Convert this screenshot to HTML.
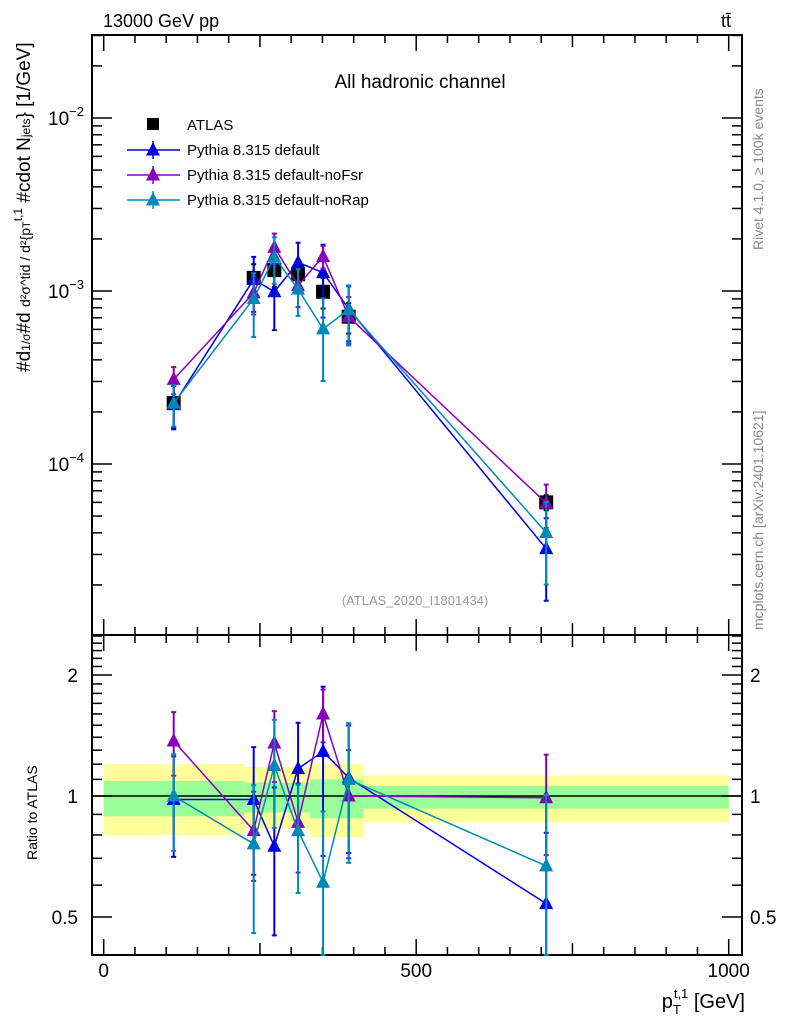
<!DOCTYPE html>
<html><head><meta charset="utf-8">
<style>
body{margin:0;background:#fff;}
svg{display:block;font-family:"Liberation Sans",sans-serif;}
</style></head>
<body>
<svg id="chart" width="786" height="1024" viewBox="0 0 786 1024" xmlns="http://www.w3.org/2000/svg">
<g id="bands"></g>
<g id="grid"></g>
<g id="marks"></g>
<text x="103" y="27" font-size="18">13000 GeV pp</text>
<text x="721" y="27" font-size="18">tt̄</text>
<text x="420" y="88" font-size="19" text-anchor="middle">All hadronic channel</text>
<text x="415" y="605" font-size="13" fill="#999" text-anchor="middle">(ATLAS_2020_I1801434)</text>
<text transform="translate(763,250) rotate(-90)" font-size="14" fill="#888">Rivet 4.1.0, ≥ 100k events</text>
<text transform="translate(763,630) rotate(-90)" font-size="14" fill="#888">mcplots.cern.ch [arXiv:2401.10621]</text>
<text transform="translate(30,372) rotate(-90)" font-size="19">#d<tspan font-size="12">1/σ</tspan>#d <tspan font-size="14">d²σ^tid / d²{p</tspan><tspan font-size="11">T</tspan><tspan font-size="12" dy="-8">t,1</tspan><tspan dy="8"> #cdot N</tspan><tspan font-size="12">jets</tspan>} [1/GeV]</text>
<text transform="translate(37,860) rotate(-90)" font-size="14">Ratio to ATLAS</text>
<text x="745" y="1008" font-size="20" text-anchor="end">p<tspan font-size="13" dy="6">T</tspan><tspan font-size="13" dx="-7" dy="-16">t,1</tspan><tspan dy="10"> [GeV]</tspan></text>
<g id="legend"></g>
</svg>
<script>
const xBins = [112, 240, 273, 311, 351, 392, 708];
const atlas = [2.25e-4, 1.19e-3, 1.32e-3, 1.25e-3, 0.99e-3, 7.1e-4, 6.0e-5];
const atlasErr = [0.28, 0.2, 0.2, 0.2, 0.2, 0.2, 0.1];
const ratioDefault = [0.98, 0.98, 0.75, 1.17, 1.29, 1.11, 0.54];
const ratioNoFsr = [1.37, 0.82, 1.355, 0.86, 1.60, 1.0, 0.99];
const ratioNoRap = [1.0, 0.76, 1.19, 0.82, 0.61, 1.10, 0.67];
const errDefault = [0.28, 0.35, 0.4, 0.3, 0.45, 0.35, 0.5];
const errNoFsr = [0.18, 0.25, 0.2, 0.25, 0.15, 0.3, 0.28];
const errNoRap = [0.27, 0.4, 0.3, 0.3, 0.5, 0.38, 0.5];
const bandEdges = [0, 225, 330, 416, 1000];
const bandYellowUp = [1.2, 1.18, 1.2, 1.125];
const bandYellowDn = [0.8, 0.83, 0.79, 0.86];
const bandGreenUp = [1.09, 1.08, 1.1, 1.06];
const bandGreenDn = [0.89, 0.91, 0.88, 0.93];
const seriesNames = ["Pythia 8.315 default","Pythia 8.315 default-noFsr","Pythia 8.315 default-noRap"];
const seriesColors = ["#0000e0","#8a00b8","#0088b8"];

const NS="http://www.w3.org/2000/svg";
const L=92,R=742,T1=35,B1=635,T2=635,B2=955;
const X=v=>103.7+v*0.625;
const Y1=v=>118-(Math.log10(v)+2)*173;
const Y2=v=>796-Math.log10(v)*402;
function mk(tag,attrs,parent){const e=document.createElementNS(NS,tag);for(const k in attrs)e.setAttribute(k,attrs[k]);parent.appendChild(e);return e;}
const grid=document.getElementById('grid'),marks=document.getElementById('marks'),bands=document.getElementById('bands'),leg=document.getElementById('legend');

for(let i=0;i<bandEdges.length-1;i++){
  const x0=X(bandEdges[i]),x1=X(bandEdges[i+1]);
  let r=mk('rect',{x:x0,y:Y2(bandYellowUp[i]),width:x1-x0,height:Y2(bandYellowDn[i])-Y2(bandYellowUp[i]),fill:'#ffff99'},bands);
  
  
  r=mk('rect',{x:x0,y:Y2(bandGreenUp[i]),width:x1-x0,height:Y2(bandGreenDn[i])-Y2(bandGreenUp[i]),fill:'#99ff99'},bands);
  
  
}
mk('line',{x1:L,x2:R,y1:Y2(1),y2:Y2(1),stroke:'#000','stroke-width':1.5},grid);

mk('rect',{x:L,y:T1,width:R-L,height:B1-T1,fill:'none',stroke:'#000','stroke-width':2},grid);
mk('rect',{x:L,y:T2,width:R-L,height:B2-T2,fill:'none',stroke:'#000','stroke-width':2},grid);
for(let v=0;v<=1000;v+=50){
  const x=X(v),len=(v%500===0)?16:(v%250===0?12:8);
  [[B1,-1],[T1,1],[B2,-1],[T2,1]].forEach(([y,d])=>mk('line',{x1:x,x2:x,y1:y,y2:y+d*len,stroke:'#000','stroke-width':1.5},grid));
  if(v%500===0){const t=mk('text',{x:x,y:977,'font-size':19,'text-anchor':'middle'},grid);t.textContent=v;
    
    }
}
for(let e=-5;e<=-2;e++){for(let m=1;m<10;m++){const v=m*Math.pow(10,e);const y=Y1(v);if(y<T1||y>B1)continue;
  const len=m===1?20:10;
  mk('line',{x1:L,x2:L+len,y1:y,y2:y,stroke:'#000','stroke-width':1.5},grid);
  mk('line',{x1:R,x2:R-len,y1:y,y2:y,stroke:'#000','stroke-width':1.5},grid);
  if(m===1){const t=mk('text',{x:84,y:y+7,'font-size':19,'text-anchor':'end'},grid);t.innerHTML='10<tspan font-size="13" dy="-9">−'+(-e)+'</tspan>';
    
    }
}}
const rt=[0.5,0.6,0.7,0.8,0.9,1,1.1,1.2,1.3,1.4,1.5,1.6,1.7,1.8,1.9,2,2.1,2.2,2.3,2.4,2.5];
rt.forEach(v=>{const y=Y2(v);if(y<T2||y>B2)return;const maj=(v===0.5||v===1||v===2);const len=maj?20:10;
  mk('line',{x1:L,x2:L+len,y1:y,y2:y,stroke:'#000','stroke-width':1.5},grid);
  mk('line',{x1:R,x2:R-len,y1:y,y2:y,stroke:'#000','stroke-width':1.5},grid);
  if(maj){[[78,'end'],[750,'start']].forEach(([x,a])=>{const t=mk('text',{x:x,y:y+7,'font-size':19,'text-anchor':a},grid);t.textContent=v;
    
    });}
});

function tri(x,y,c,p,name){const e=mk('path',{d:`M${x},${y-8}L${x+7},${y+5.5}L${x-7},${y+5.5}Z`,fill:c},p);
  
  }
function errbar(x,y0,y1,c,p){mk('line',{x1:x,x2:x,y1:y0,y2:y1,stroke:c,'stroke-width':2},p);
  mk('line',{x1:x-2.5,x2:x+2.5,y1:y0,y2:y0,stroke:c,'stroke-width':2},p);mk('line',{x1:x-2.5,x2:x+2.5,y1:y1,y2:y1,stroke:c,'stroke-width':2},p);}

atlas.forEach((v,i)=>{const x=X(xBins[i]);errbar(x,Y1(v*(1+atlasErr[i])),Y1(v*(1-atlasErr[i])),'#000',marks);
  const r=mk('rect',{x:x-7,y:Y1(v)-7,width:14,height:14,fill:'#000'},marks);
  
  });
const ratios=[ratioDefault,ratioNoFsr,ratioNoRap],errs=[errDefault,errNoFsr,errNoRap];
ratios.forEach((rs,s)=>{const c=seriesColors[s];
  const pm=rs.map((r,i)=>[X(xBins[i]),Y1(r*atlas[i])]);
  const pr=rs.map((r,i)=>[X(xBins[i]),Y2(r)]);
  let l=mk('polyline',{points:pm.map(p=>p.join(',')).join(' '),fill:'none',stroke:c,'stroke-width':1.5},marks);
  
  
  l=mk('polyline',{points:pr.map(p=>p.join(',')).join(' '),fill:'none',stroke:c,'stroke-width':1.5},marks);
  
  
  rs.forEach((r,i)=>{const e=errs[s][i];const x=X(xBins[i]);
    errbar(x,Y1(r*atlas[i]*(1+e)),Y1(r*atlas[i]*Math.max(0.05,1-e)),c,marks);
    errbar(x,Math.max(T2,Y2(r*(1+e))),Math.min(B2,Y2(r*Math.max(0.05,1-e))),c,marks);
    tri(x,Y1(r*atlas[i]),c,marks,'main-point');tri(x,Y2(r),c,marks,'ratio-point');});
});
let lr=mk('rect',{x:147,y:118,width:12,height:12,fill:'#000'},leg);


let lt=mk('text',{x:187,y:130,'font-size':15},leg);lt.textContent='ATLAS';


seriesNames.forEach((n,i)=>{const y=150+i*25;mk('line',{x1:127,x2:180,y1:y,y2:y,stroke:seriesColors[i],'stroke-width':1.5},leg);
  mk('line',{x1:153,x2:153,y1:y-9,y2:y+9,stroke:seriesColors[i],'stroke-width':1.5},leg);
  tri(153,y,seriesColors[i],leg,'legend-marker');
  const t=mk('text',{x:187,y:y+5,'font-size':15},leg);t.textContent=n;
  
  });
</script>
</body></html>
